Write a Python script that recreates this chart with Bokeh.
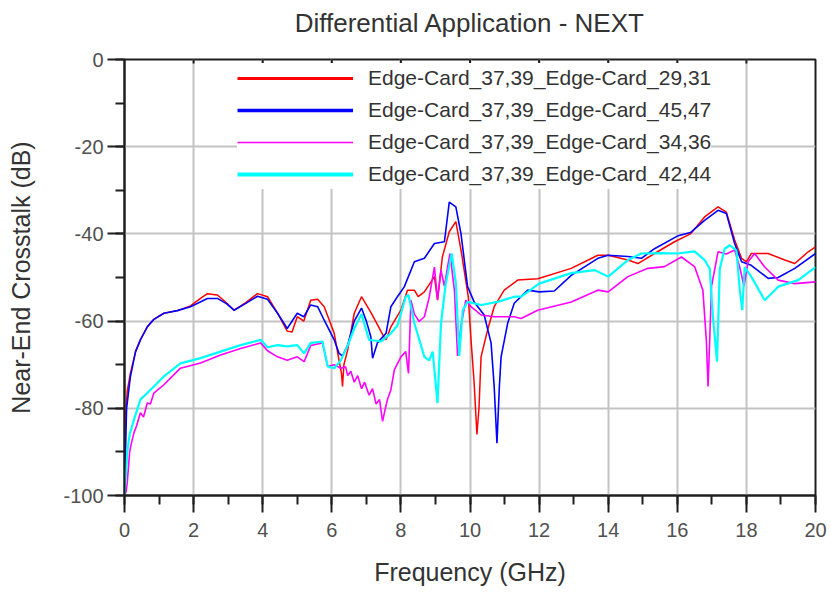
from bokeh.plotting import figure
from bokeh.models import (Range1d, SingleIntervalTicker, FixedTicker, LinearAxis, Legend, LegendItem)
from bokeh.embed import file_html
from bokeh.resources import INLINE

TITLE = "Differential Application - NEXT"
X_LABEL = "Frequency (GHz)"
Y_LABEL = "Near-End Crosstalk (dB)"
NAMES = ["Edge-Card_37,39_Edge-Card_29,31", "Edge-Card_37,39_Edge-Card_45,47",
         "Edge-Card_37,39_Edge-Card_34,36", "Edge-Card_37,39_Edge-Card_42,44"]

X_TICKS = [0, 2, 4, 6, 8, 10, 12, 14, 16, 18, 20]
Y_TICKS = [0, -20, -40, -60, -80, -100]
Y_TICK_LABELS = ["0", "-20", "-40", "-60", "-80", "-100"]

red_f = [0.0, 0.03, 0.08, 0.17, 0.32, 0.46, 0.66, 0.85, 1.14, 1.53, 1.91, 2.2, 2.4, 2.69, 2.95, 3.17,
         3.5, 3.85, 4.14, 4.43, 4.71, 4.85, 5.0, 5.19, 5.39, 5.59, 5.78, 6.07, 6.21, 6.28, 6.31, 6.35,
         6.46, 6.65, 6.86, 7.13, 7.32, 7.5, 7.57, 7.71, 8.0, 8.19, 8.39, 8.5, 8.68, 8.97, 9.06, 9.2,
         9.4, 9.59, 9.74, 9.95, 10.03, 10.12, 10.2, 10.26, 10.32, 10.51, 10.7, 10.99, 11.38, 11.96,
         12.93, 13.7, 14.0, 14.57, 14.86, 15.34, 15.92, 16.38, 16.79, 17.18, 17.42, 17.66, 17.86,
         18.0, 18.14, 18.63, 19.11, 19.4, 19.79, 20.0]
red_db = [-90, -82, -76, -72, -67, -64.3, -61.3, -59.6, -58.2, -57.6, -56.5, -54.8, -53.7, -54, -55.8, -57.5,
          -55.8, -53.7, -54.4, -58.2, -62.3, -62.5, -59, -60, -55.2, -55, -56.7, -62.8, -69, -72, -75, -70,
          -66.6, -58.2, -54.4, -58, -60.8, -63.5, -64.3, -61.3, -57.5, -52.9, -52.9, -54.4, -53.3, -49.8, -55.2, -45.3,
          -39.5, -37.2, -43.7, -54.4, -64.3, -74.2, -86, -80, -68.2, -62, -56.7, -52.9, -50.6, -50.3,
          -47.9, -44.9, -44.9, -46, -46.8, -44.5, -41.8, -40, -36.1, -33.8, -35, -41.4, -45.6,
          -46.4, -44.5, -44.5, -46, -46.8, -44.1, -43]

blue_f = [0.0, 0.03, 0.06, 0.17, 0.32, 0.46, 0.66, 0.85, 1.14, 1.53, 1.91, 2.4, 2.69, 2.95, 3.17, 3.5,
          3.85, 4.14, 4.43, 4.71, 4.81, 5.0, 5.19, 5.39, 5.59, 5.78, 6.07, 6.21, 6.31, 6.46, 6.65, 6.86,
          7.0, 7.13, 7.18, 7.32, 7.57, 7.71, 7.9, 8.1, 8.39, 8.68, 8.97, 9.26, 9.4, 9.59, 9.74, 9.93,
          10.12, 10.41, 10.61, 10.7, 10.78, 10.85, 10.9, 11.09, 11.28, 11.67, 12.0, 12.44, 12.93, 13.7,
          14.0, 14.57, 14.96, 15.34, 16.0, 16.38, 16.79, 17.18, 17.42, 17.66, 17.86, 18.14, 18.63,
          18.92, 19.4, 20.0]
blue_db = [-100, -90, -80, -72.8, -67, -64.3, -61.3, -59.6, -58.2, -57.6, -56.7, -54.8, -54.8, -56, -57.5, -56,
           -54.3, -55, -58.2, -61.7, -60.5, -58.2, -59, -56.3, -56.7, -59.8, -64.3, -67.4, -68, -65.5, -60, -57,
           -60, -63.6, -68.5, -65, -62.8, -56.7, -54.4, -52.1, -46.4, -45.6, -42.2, -41.8, -32.7, -33.8, -40, -52.1,
           -55.6, -58.6, -65, -75, -88, -75, -68.2, -60.5, -55.9, -52.9, -53.3, -53.1, -49.5, -45.6,
           -44.9, -45.2, -45.6, -43.4, -40.5, -39.7, -36.9, -34.6, -35.3, -42.2, -46.4, -47.2, -50.2,
           -50, -47.9, -44.5]

mag_f = [0.0, 0.05, 0.08, 0.15, 0.2, 0.27, 0.35, 0.46, 0.55, 0.66, 0.75, 0.85, 1.14, 1.62, 2.2, 2.78,
         3.36, 3.94, 4.14, 4.43, 4.71, 5.0, 5.2, 5.39, 5.73, 5.88, 6.07, 6.26, 6.4, 6.46, 6.55, 6.65,
         6.75, 6.86, 6.95, 7.08, 7.18, 7.28, 7.38, 7.47, 7.55, 7.61, 7.71, 7.81, 8.0, 8.14, 8.22, 8.29,
         8.39, 8.53, 8.68, 8.82, 8.97, 9.06, 9.16, 9.26, 9.35, 9.42, 9.55, 9.64, 9.74, 9.88, 10.03,
         10.32, 10.7, 11.28, 11.48, 11.96, 12.93, 13.7, 14.0, 14.57, 15.15, 15.63, 16.12, 16.5, 16.74,
         16.84, 16.89, 16.94, 16.99, 17.18, 17.42, 17.66, 17.81, 17.93, 18.05, 18.24, 18.53, 18.92,
         19.4, 20.0]
mag_db = [-100, -99, -97, -90, -88, -85.7, -84, -81, -82, -78.8, -79, -76.5, -74.6, -70.8, -69.6, -67.8,
          -66.3, -65, -66.8, -68.2, -69, -68.2, -69.3, -65.6, -65, -70.4, -70, -70.8, -70.5, -72.5, -71.5, -74,
          -72.5, -75.5, -74, -77, -75.5, -79, -78, -83, -80, -78, -75.8, -71.2, -68.2, -67, -72, -55.2,
          -58.4, -60.1, -59, -54.5, -47.6, -55, -48.3, -52, -47.6, -44.5, -53, -68, -61, -55.2, -56.7,
          -58.6, -59, -59, -59.4, -57.5, -55.6, -52.9, -53.3, -49.8, -47.9, -47.5, -45.3, -47.5, -52.9,
          -64.3, -75, -64, -52, -44.1, -44.6, -43.7, -47.7, -52, -46.4, -44.5, -47.6, -50.6,
          -51.4, -51]

cyan_f = [0.0, 0.04, 0.08, 0.15, 0.27, 0.46, 0.66, 0.85, 1.14, 1.62, 2.2, 2.78, 3.36, 3.94, 4.14, 4.43,
          4.71, 5.0, 5.2, 5.39, 5.73, 5.88, 6.07, 6.26, 6.46, 6.65, 6.86, 7.08, 7.28, 7.42, 7.71, 7.9,
          8.14, 8.22, 8.39, 8.68, 8.82, 8.92, 9.06, 9.16, 9.3, 9.47, 9.59, 9.69, 9.79, 9.93, 10.32, 10.8,
          11.28, 11.48, 12.0, 12.93, 13.6, 14.0, 14.57, 14.96, 15.53, 16.0, 16.5, 16.79, 16.94, 17.03,
          17.15, 17.23, 17.37, 17.52, 17.71, 17.81, 17.88, 17.95, 18.14, 18.53, 18.92, 19.5, 20.0]
cyan_db = [-100, -95, -90, -86, -82.7, -78, -76.5, -75, -72.7, -69.7, -68.5, -67, -65.5, -64.3, -66, -65.5,
           -65.8, -65.5, -67.4, -65, -64.7, -70.4, -70.8, -69, -65.6, -61.7, -58.4, -64.3, -64.5, -64.7, -62.8, -61,
           -54.4, -54, -60.5, -68.2, -69, -67, -78.8, -60.5, -51.3, -44.5, -51.3, -68, -57.5, -55.6, -56.3, -55.6,
           -54.4, -54.4, -51.4, -49, -48.3, -49.8, -46, -44.5, -44.4, -44.5, -44, -46, -48, -59,
           -69.3, -48, -43.4, -42.6, -43.8, -52.9, -57.5, -47.6, -49.8, -55.2, -52.1, -50.6, -47.6]

FONT = "Liberation Sans"
AXIS_COL = "#1e1e1e"
W, H = 831, 592
BL, BR, BT, BB = 124, 16, 59, 97
FRAME_W, FRAME_H = W - BL - BR, H - BT - BB

p = figure(width=W, height=H, output_backend="svg", toolbar_location=None,
           x_range=Range1d(X_TICKS[0], X_TICKS[-1]), y_range=Range1d(Y_TICKS[-1], Y_TICKS[0]),
           min_border_left=BL, min_border_right=BR, min_border_top=BT, min_border_bottom=BB)
p.background_fill_color = "white"
p.border_fill_color = "white"
p.outline_line_color = AXIS_COL
p.outline_line_width = 2

xax = p.below[0]
yax = p.left[0]

xt = SingleIntervalTicker(interval=X_TICKS[1] - X_TICKS[0], num_minor_ticks=2)
yt = SingleIntervalTicker(interval=Y_TICKS[0] - Y_TICKS[1], num_minor_ticks=2)
xax.ticker = xt
yax.ticker = yt
p.xgrid.ticker = xt
p.ygrid.ticker = yt
for g in (p.xgrid, p.ygrid):
    g.grid_line_color = "#c3c3c3"
    g.grid_line_width = 2

for ax in (xax, yax):
    ax.axis_line_color = AXIS_COL
    ax.axis_line_width = 2
    ax.major_tick_line_color = AXIS_COL
    ax.major_tick_line_width = 2
    ax.minor_tick_line_color = AXIS_COL
    ax.minor_tick_line_width = 2
    ax.major_tick_in = 0
    ax.major_tick_out = 17
    ax.minor_tick_in = 0
    ax.minor_tick_out = 9
    ax.major_label_text_font = FONT
    ax.major_label_text_font_size = "20px"
    ax.major_label_text_color = "#505050"
    ax.axis_label_text_font = FONT
    ax.axis_label_text_font_size = "25px"
    ax.axis_label_text_font_style = "normal"
    ax.axis_label_text_color = "#333333"
xax.axis_label = X_LABEL
yax.axis_label = Y_LABEL
yax.major_label_overrides = {v: s for v, s in zip(Y_TICKS, Y_TICK_LABELS)}
xax.major_label_standoff = 10
yax.major_label_standoff = 4
xax.axis_label_standoff = 18
yax.axis_label_standoff = 25

# chart title, carried by an otherwise empty top axis so it can sit well above the frame
top = LinearAxis(ticker=FixedTicker(ticks=[]), axis_line_color=None,
                 major_tick_line_color=None, minor_tick_line_color=None,
                 major_tick_in=0, major_tick_out=0, minor_tick_in=0, minor_tick_out=0,
                 axis_label=TITLE, axis_label_standoff=22,
                 axis_label_text_font=FONT, axis_label_text_font_size="26px",
                 axis_label_text_font_style="normal", axis_label_text_color="#333333")
p.add_layout(top, "above")

# short inward tick marks along the top edge of the frame
TOP_TICK_DB = 4 * (Y_TICKS[0] - Y_TICKS[-1]) / FRAME_H
p.segment(x0=X_TICKS[1:-1], y0=[Y_TICKS[0]] * (len(X_TICKS) - 2),
          x1=X_TICKS[1:-1], y1=[Y_TICKS[0] - TOP_TICK_DB] * (len(X_TICKS) - 2),
          line_color=AXIS_COL, line_width=2)

COLORS = ["#ff0000", "#0000ff", "#ff00ff", "#00ffff"]
series = [(red_f, red_db), (blue_f, blue_db), (mag_f, mag_db), (cyan_f, cyan_db)]
widths = [1.5, 1.6, 1.6, 2.2]
for (fx, dy), c, w in zip(series, COLORS, widths):
    p.line(fx, dy, line_color=c, line_width=w)

legend_widths = [3, 3.5, 1.3, 4]
items = []
nan = float("nan")
for name, c, w in zip(NAMES, COLORS, legend_widths):
    r = p.line([nan], [nan], line_color=c, line_width=w)
    items.append(LegendItem(label=name, renderers=[r]))

leg = Legend(items=items, location=(113, FRAME_H - 130))
leg.padding = 2
leg.margin = 0
leg.spacing = 2
leg.glyph_width = 116
leg.glyph_height = 30
leg.label_height = 30
leg.label_standoff = 15
leg.label_text_font = FONT
leg.label_text_font_size = "21px"
leg.label_text_color = "#333333"
leg.border_line_color = None
leg.background_fill_color = "white"
leg.background_fill_alpha = 1.0
p.add_layout(leg, "center")

open("out.html", "w").write(file_html(p, INLINE))
